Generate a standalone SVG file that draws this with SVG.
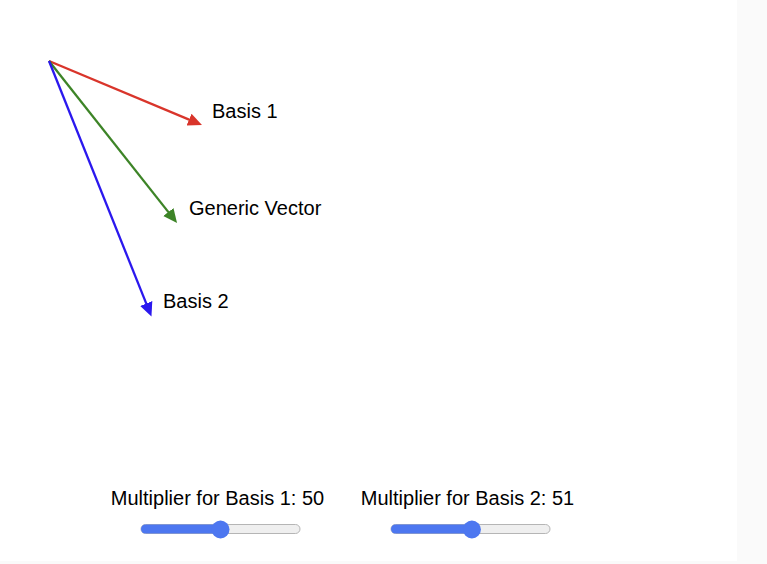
<svg xmlns="http://www.w3.org/2000/svg" width="767" height="564" viewBox="0 0 767 564">
  <style>
    .lbl { font-family: "Liberation Sans", Arial, sans-serif; font-size: 20px; fill: #000; }
    .vec { stroke-width: 2.3; fill: none; }
    .track { fill: #efefef; stroke: #b5b5b5; stroke-width: 1; }
    .fill { fill: #4d77f0; }
  </style>
  <defs>
    <marker id="ah-red" viewBox="0 -8 16 16" markerWidth="16" markerHeight="16" refX="2" refY="0" orient="auto" markerUnits="userSpaceOnUse">
      <path d="M0,-6.5 L14,0 L0,6.5 Z" fill="#d9352b"/>
    </marker>
    <marker id="ah-green" viewBox="0 -8 16 16" markerWidth="16" markerHeight="16" refX="2" refY="0" orient="auto" markerUnits="userSpaceOnUse">
      <path d="M0,-6.5 L14,0 L0,6.5 Z" fill="#3d8427"/>
    </marker>
    <marker id="ah-blue" viewBox="0 -8 16 16" markerWidth="16" markerHeight="16" refX="2" refY="0" orient="auto" markerUnits="userSpaceOnUse">
      <path d="M0,-6.5 L14,0 L0,6.5 Z" fill="#2b18ee"/>
    </marker>
  </defs>
  <rect x="0" y="0" width="767" height="564" fill="#ffffff"/>
  <rect x="737" y="0" width="30" height="564" fill="#fafafa"/>
  <rect x="0" y="561" width="767" height="3" fill="#fafafa"/>

  <g id="connectors">
    <line class="vec" x1="49" y1="61" x2="190.9" y2="120.4" stroke="#d9352b" marker-end="url(#ah-red)"/>
    <line class="vec" x1="49" y1="61" x2="169.6" y2="213.6" stroke="#3d8427" marker-end="url(#ah-green)"/>
    <line class="vec" x1="49" y1="61" x2="147.0" y2="305.4" stroke="#2b18ee" marker-end="url(#ah-blue)"/>
  </g>

  <g id="label-basis1"><text class="lbl" x="212" y="117.5">Basis 1</text></g>
  <g id="label-generic"><text class="lbl" x="189" y="215">Generic Vector</text></g>
  <g id="label-basis2"><text class="lbl" x="163" y="308">Basis 2</text></g>

  <g id="slider1">
    <text class="lbl" x="217.5" y="505" text-anchor="middle">Multiplier for Basis 1: 50</text>
    <rect class="track" x="141" y="524.5" width="159" height="9" rx="4.5"/>
    <rect class="fill" x="141" y="524.5" width="80" height="9" rx="4.5"/>
    <circle class="fill" cx="220.5" cy="529.5" r="9"/>
  </g>
  <g id="slider2">
    <text class="lbl" x="467.5" y="505" text-anchor="middle">Multiplier for Basis 2: 51</text>
    <rect class="track" x="391" y="524.5" width="159" height="9" rx="4.5"/>
    <rect class="fill" x="391" y="524.5" width="81" height="9" rx="4.5"/>
    <circle class="fill" cx="471.9" cy="529.5" r="9"/>
  </g>
</svg>
